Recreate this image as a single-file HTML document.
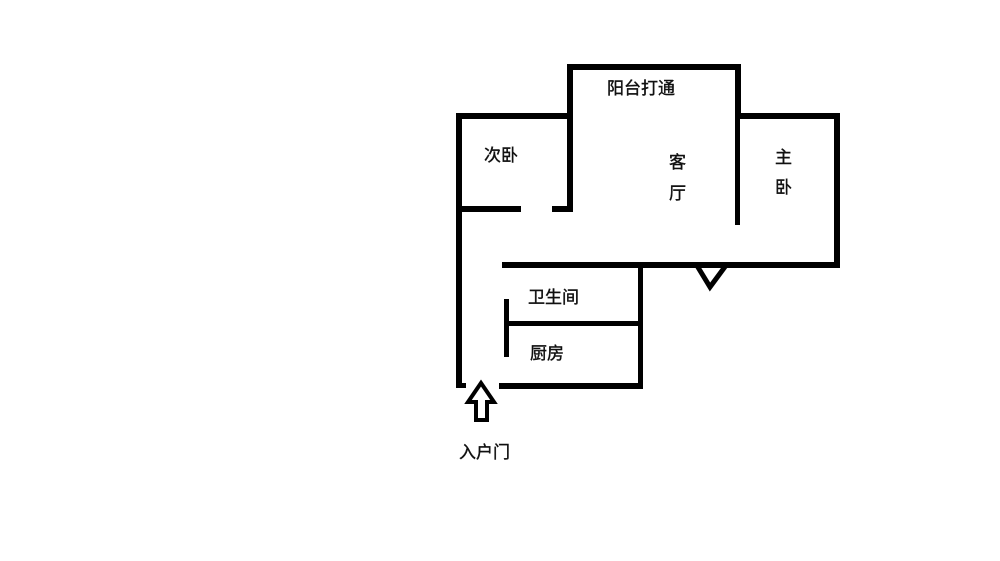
<!DOCTYPE html>
<html><head><meta charset="utf-8"><style>
html,body{margin:0;padding:0;background:#fff;}
svg{display:block}
text{font-family:"Liberation Sans","Noto Sans CJK SC",sans-serif;font-size:17px;fill:#111;stroke:#111;stroke-width:0.4;}
</style></head><body>
<svg width="1000" height="561" viewBox="0 0 1000 561">
<g fill="#000">
<rect x="567" y="64" width="173" height="6"/>
<rect x="567" y="64" width="6" height="55"/>
<rect x="735" y="64" width="6" height="55"/>
<rect x="456" y="113" width="117" height="6"/>
<rect x="456" y="113" width="6" height="275"/>
<rect x="456" y="383" width="10" height="5"/>
<rect x="567" y="113" width="6" height="99"/>
<rect x="456" y="206" width="65" height="6"/>
<rect x="552" y="206" width="21" height="6"/>
<rect x="735" y="113" width="105" height="6"/>
<rect x="735" y="113" width="5" height="112"/>
<rect x="834" y="113" width="6" height="154"/>
<rect x="502" y="262" width="338" height="6"/>
<rect x="638" y="262" width="5" height="127"/>
<rect x="506" y="321" width="137" height="5"/>
<rect x="504" y="299" width="5" height="58"/>
<rect x="499" y="383" width="144" height="6"/>
</g>
<polyline points="696,264 710,287 727,264" fill="none" stroke="#000" stroke-width="5"/>
<polygon points="481,383 468,402 476,402 476,420 487,420 487,402 494,402" fill="#fff" stroke="#000" stroke-width="4" stroke-linejoin="miter"/>
<text x="607" y="94">阳台打通</text>
<text x="484" y="161">次卧</text>
<text x="669" y="168">客</text>
<text x="669" y="199">厅</text>
<text x="775" y="163">主</text>
<text x="775" y="193">卧</text>
<text x="528" y="303">卫生间</text>
<text x="530" y="359">厨房</text>
<text x="459" y="458">入户门</text>
</svg>
</body></html>
